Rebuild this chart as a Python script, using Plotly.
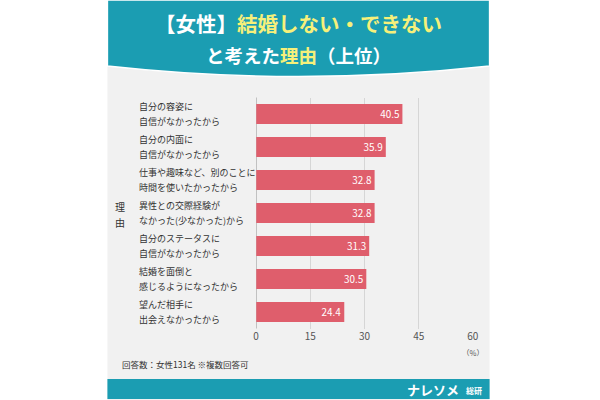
import plotly.graph_objects as go

# データ(上位7項目、単位: %)
reasons = [
    ["自分の容姿に", "自信がなかったから"],
    ["自分の内面に", "自信がなかったから"],
    ["仕事や趣味など、別のことに", "時間を使いたかったから"],
    ["異性との交際経験が", "なかった(少なかった)から"],
    ["自分のステータスに", "自信がなかったから"],
    ["結婚を面倒と", "感じるようになったから"],
    ["望んだ相手に", "出会えなかったから"],
]
values = [40.5, 35.9, 32.8, 32.8, 31.3, 30.5, 24.4]
x_ticks = [0, 15, 30, 45, 60]

TEAL = "#1b9db2"
YELLOW = "#f6f07a"
BAR = "#df5e6c"
FONT = "Noto Sans CJK JP"
W, H = 600, 400


def px(x, y):
    # ピクセル -> paper 座標 (margin 0 なので paper = 図全体)
    return x / W, 1 - y / H


keys = ["".join(r) for r in reasons]

fig = go.Figure()
fig.add_trace(go.Bar(
    x=values, y=keys, orientation="h",
    marker=dict(color=BAR, line=dict(width=0)),
    text=[f"{v:.1f}" for v in values],
    textposition="inside", insidetextanchor="end",
    textfont=dict(color="white", size=11.5, family=FONT),
    hoverinfo="skip",
))

shapes = []
# 背景パネル
x0, y0 = px(106, 0)
x1, y1 = px(494, 400)
shapes.append(dict(type="rect", xref="paper", yref="paper", x0=x0, y0=y1, x1=x1, y1=y0,
                   fillcolor="#f1f1f1", line=dict(width=0), layer="below"))
# ヘッダー(下辺がカーブ)
path = "M {} {} L {} {} L {} {} Q {} {} {} {} Z".format(
    *px(106, 0), *px(494, 0), *px(494, 66), *px(300, 87), *px(106, 66))
shapes.append(dict(type="path", xref="paper", yref="paper", path=path,
                   fillcolor=TEAL, line=dict(color="white", width=1.5), layer="below"))
# フッター
fx0, fy0 = px(106, 379)
fx1, fy1 = px(494, 399)
shapes.append(dict(type="rect", xref="paper", yref="paper", x0=fx0, y0=fy1, x1=fx1, y1=fy0,
                   fillcolor=TEAL, line=dict(width=0), layer="below"))

annotations = []


def ann(x, y, text, xanchor="center", **kw):
    ax, ay = px(x, y)
    d = dict(xref="paper", yref="paper", x=ax, y=ay, text=text, showarrow=False,
             xanchor=xanchor, yanchor="middle",
             font=dict(family=FONT, size=9, color="#333333"))
    d.update(kw)
    annotations.append(d)


title1 = (f'<span style="color:white">【女性】</span>'
          f'<span style="color:{YELLOW}">結婚しない・できない</span>')
title2 = (f'<span style="color:white">と考えた</span>'
          f'<span style="color:{YELLOW}">理由</span>'
          f'<span style="color:white">（上位）</span>')
ann(300, 23, title1, font=dict(family=FONT, size=20.5, color="white", weight=700))
ann(300, 55, title2, font=dict(family=FONT, size=18.5, color="white", weight=700))

# 項目ラベル(左揃え、2行)
for k, lines in zip(keys, reasons):
    for j, line in enumerate(lines):
        annotations.append(dict(
            xref="paper", yref="y", x=136 / W, y=k, text=line, showarrow=False,
            xanchor="left", yanchor="middle", yshift=7.5 - 15 * j,
            font=dict(family=FONT, size=9, color="#333333")))

ann(119, 207, "理", font=dict(family=FONT, size=10, color="#333333"))
ann(119, 222, "由", font=dict(family=FONT, size=10, color="#333333"))
ann(477, 352, "（%）", font=dict(family=FONT, size=7.5, color="#555555"))
ann(119, 364, "回答数：女性131名 ※複数回答可", xanchor="left",
    font=dict(family=FONT, size=8.5, color="#333333"))
ann(465, 389, "<b>ナレソメ</b>", xanchor="right",
    font=dict(family=FONT, size=13, color="white", weight=900))
ann(488, 390, "<b>総研</b>", xanchor="right",
    font=dict(family=FONT, size=8, color="white"))

fig.update_layout(
    width=W, height=H,
    margin=dict(l=0, r=0, t=0, b=0),
    paper_bgcolor="white", plot_bgcolor="rgba(0,0,0,0)",
    showlegend=False, bargap=0.4,
    shapes=shapes, annotations=annotations,
    font=dict(family=FONT),
    xaxis=dict(domain=[257 / W, 477 / W], range=[0, 60], tickvals=x_ticks,
               showgrid=True, gridcolor="#d6d6d6", gridwidth=1, zeroline=False,
               showline=False, ticks="", tickfont=dict(size=10, color="#555555"),
               fixedrange=True),
    yaxis=dict(domain=[(400 - 328.5) / H, (400 - 97.5) / H],
               categoryorder="array", categoryarray=keys[::-1],
               showticklabels=False, showgrid=False, zeroline=False,
               showline=False, ticks="", fixedrange=True),
)
# y軸の基線
fig.add_shape(type="line", xref="x", yref="paper", x0=0, x1=0,
              y0=(400 - 328.5) / H, y1=(400 - 97.5) / H,
              line=dict(color="#9a9a9a", width=1), layer="below")

fig.write_html("out.html", config={"displayModeBar": False},
               post_script="document.body.style.margin='0';")
